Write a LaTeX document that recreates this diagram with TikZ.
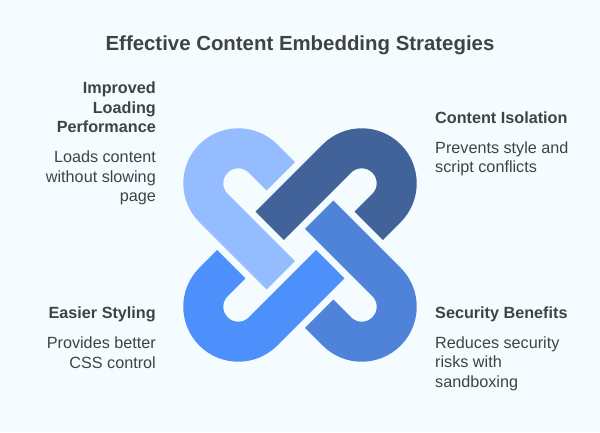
\documentclass[tikz,border=0pt]{standalone}
\usepackage{fontspec}
\setmainfont{Liberation Sans}
\usetikzlibrary{positioning}
\definecolor{pagefill}{RGB}{244, 252, 255}
\definecolor{textgrey}{RGB}{64, 66, 70}
\definecolor{linklight}{RGB}{148, 188, 255}
\definecolor{linkdark}{RGB}{66, 99, 154}
\definecolor{linkmid}{RGB}{79, 130, 217}
\definecolor{linkblue}{RGB}{77, 143, 251}
\tikzset{
    x=1pt, y=1pt,
    linkband/.pic={
        \draw[line width=40pt] (-19.2, 68.7) -- (-36.95, 86.45)
            arc[start angle=45, end angle=225, radius=35] -- (-19.2, -30.3);
    },
    headtext/.style={font=\bfseries\fontsize{16.2}{19.5}\selectfont, text=textgrey, inner sep=0pt},
    bodytext/.style={font=\fontsize{16.2}{19.5}\selectfont, text=textgrey, inner sep=0pt},
}
\begin{document}
\begin{tikzpicture}
    \fill[pagefill] (0, 0) rectangle (600, 432);
    \useasboundingbox (0, 0) rectangle (600, 432);
    \node[headtext, font=\bfseries\fontsize{20.4}{24}\selectfont] (title) at (300, 386.5) {Effective Content Embedding Strategies};
    \foreach \angle/\shade in {0/linklight, -90/linkdark, -180/linkmid, -270/linkblue}
        \pic[rotate=\angle, color=\shade] at (300, 187) {linkband};
    % left side
    \node[headtext, align=right, anchor=north east] (loading) at (156, 350) {Improved\\Loading\\Performance};
    \node[bodytext, align=right, below=17.5pt of loading.south east, anchor=north east] (loadingtext) {Loads content\\without slowing\\page};
    \node[headtext, align=right, anchor=north east] (styling) at (156, 125) {Easier Styling};
    \node[bodytext, align=right, below=14pt of styling.south east, anchor=north east] (stylingtext) {Provides better\\CSS control};
    % right side
    \node[headtext, align=left, anchor=north west] (isolation) at (435, 320) {Content Isolation};
    \node[bodytext, align=left, below=17pt of isolation.south west, anchor=north west] (isolationtext) {Prevents style and\\script conflicts};
    \node[headtext, align=left, anchor=north west] (security) at (435, 125) {Security Benefits};
    \node[bodytext, align=left, below=14pt of security.south west, anchor=north west] (securitytext) {Reduces security\\risks with\\sandboxing};
\end{tikzpicture}
\end{document}
